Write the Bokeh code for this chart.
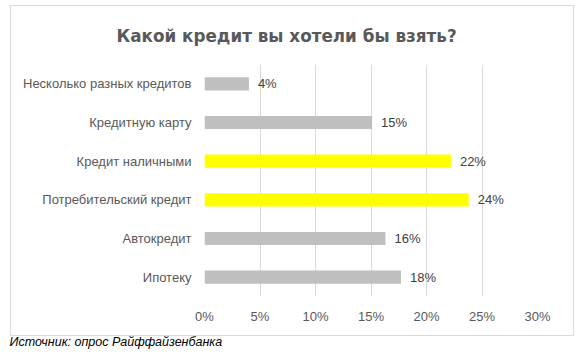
from bokeh.plotting import figure
from bokeh.models import (ColumnDataSource, FactorRange, Range1d, LabelSet, Title,
                          FixedTicker, NumeralTickFormatter)
from bokeh.core.properties import value
from bokeh.embed import file_html
from bokeh.resources import INLINE

categories = ["Несколько разных кредитов", "Кредитную карту", "Кредит наличными",
              "Потребительский кредит", "Автокредит", "Ипотеку"]
values = [0.040, 0.151, 0.222, 0.238, 0.163, 0.177]
value_labels = ["4%", "15%", "22%", "24%", "16%", "18%"]
colors = ["#BFBFBF", "#BFBFBF", "#FFFF00", "#FFFF00", "#BFBFBF", "#BFBFBF"]
x_ticks = [0, 0.05, 0.10, 0.15, 0.20, 0.25, 0.30]
title_text = "Какой кредит вы хотели бы взять?"
source_text = "Источник: опрос Райффайзенбанка"

src = ColumnDataSource(dict(cat=categories, val=values, lab=value_labels, col=colors))

font = "Liberation Sans"

# light grey chart border drawn as CSS background lines behind a transparent canvas
border_css = {
    "background-color": "white",
    "background-image": ", ".join(["linear-gradient(#D9D9D9, #D9D9D9)"] * 4),
    "background-size": "564px 1px, 564px 1px, 1px 331px, 1px 331px",
    "background-position": "10px 5px, 10px 335px, 10px 5px, 573px 5px",
    "background-repeat": "no-repeat",
}

p = figure(width=584, height=356, output_backend="svg", toolbar_location=None,
           y_range=FactorRange(factors=categories[::-1], range_padding=0),
           x_range=Range1d(0, 0.30),
           min_border_left=204, min_border_right=47, min_border_top=64, min_border_bottom=60,
           styles=border_css)
p.outline_line_color = None
p.border_fill_color = None
p.background_fill_color = "white"

p.title.text = title_text
p.title.align = "left"
p.title.offset = -88
p.title.standoff = 38
p.title.text_font = "DejaVu Sans"
p.title.text_font_size = "16.8px"
p.title.text_font_style = "bold"
p.title.text_color = "#595959"

src_title = Title(text=source_text, align="left", offset=-195, text_font=font,
                  text_font_size="12.5px", text_font_style="italic", text_color="#000000",
                  standoff=13)
p.add_layout(src_title, "below")

p.hbar(y="cat", right="val", left=0, height=0.34, color="col", line_color=None, source=src)

p.add_layout(LabelSet(x="val", y="cat", text="lab", source=src, x_offset=9,
                      text_baseline="middle", text_font_size="13px", text_color="#404040",
                      text_font=value(font)))

p.ygrid.grid_line_color = None
p.xgrid.grid_line_color = "#D9D9D9"
p.xaxis.ticker = FixedTicker(ticks=x_ticks)
p.xaxis.formatter = NumeralTickFormatter(format="0%")
for ax in (p.xaxis[0], p.yaxis[0]):
    ax.axis_line_color = None
    ax.major_tick_line_color = None
    ax.minor_tick_line_color = None
    ax.major_label_text_color = "#595959"
    ax.major_label_text_font_size = "13px"
    ax.major_label_text_font = font
p.xaxis.major_label_standoff = 6
p.yaxis.major_label_standoff = 7

open("out.html", "w").write(file_html(p, INLINE))
